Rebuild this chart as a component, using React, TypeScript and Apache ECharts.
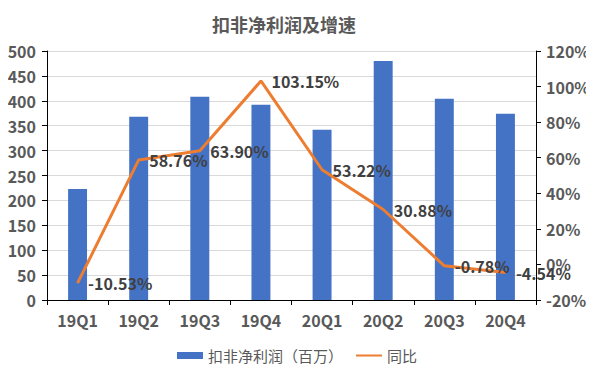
import React, { useEffect, useRef } from "react";
import * as echarts from "echarts";

const categories = ["19Q1", "19Q2", "19Q3", "19Q4", "20Q1", "20Q2", "20Q3", "20Q4"];
const profit = [223, 368, 408, 392, 342, 480, 404, 374];
const growth = [-10.53, 58.76, 63.9, 103.15, 53.22, 30.88, -0.78, -4.54];
const leftTicks = { min: 0, max: 500, interval: 50 };
const rightTicks = { min: -20, max: 120, interval: 20 };

const FONT = "'Noto Sans CJK SC', 'Noto Sans', sans-serif";

export default function App() {
  const ref = useRef<HTMLDivElement>(null);
  useEffect(() => {
    const chart = echarts.init(ref.current!, null, { renderer: "svg" });
    chart.setOption({
      animation: false,
      textStyle: { fontFamily: FONT },
      title: {
        text: "扣非净利润及增速",
        left: 279,
        top: 10,
        textAlign: "center",
        textStyle: { fontSize: 18, fontWeight: "bold", color: "#595959", fontFamily: FONT },
      },
      legend: {
        bottom: 7,
        left: "center",
        itemWidth: 26,
        itemHeight: 7,
        itemGap: 12,
        textStyle: { fontSize: 15, color: "#595959", fontFamily: FONT },
        data: [
          { name: "扣非净利润（百万）", icon: "rect" },
          { name: "同比" },
        ],
      },
      grid: { left: 47, right: 58, top: 51, bottom: 75, containLabel: false },
      xAxis: {
        type: "category",
        data: categories,
        axisLine: { lineStyle: { color: "#000", width: 1 } },
        axisTick: { show: true, alignWithLabel: false, length: 5, lineStyle: { color: "#000" } },
        axisLabel: { fontSize: 16, fontWeight: "bold", color: "#595959", margin: 12, fontFamily: FONT },
      },
      yAxis: [
        {
          type: "value",
          ...leftTicks,
          axisLine: { show: true, lineStyle: { color: "#000" } },
          axisTick: { show: true, length: 5, lineStyle: { color: "#000" } },
          axisLabel: { fontSize: 16, fontWeight: "bold", color: "#595959", margin: 11, fontFamily: FONT },
          splitLine: { lineStyle: { color: "#d9d9d9" } },
        },
        {
          type: "value",
          ...rightTicks,
          axisLine: { show: true, lineStyle: { color: "#000" } },
          axisTick: { show: true, length: 5, lineStyle: { color: "#000" } },
          axisLabel: {
            fontSize: 16,
            fontWeight: "bold",
            color: "#595959",
            margin: 10,
            fontFamily: FONT,
            formatter: "{value}%",
          },
          splitLine: { show: false },
        },
      ],
      series: [
        {
          name: "扣非净利润（百万）",
          type: "bar",
          data: profit,
          barWidth: "31%",
          itemStyle: { color: "#4472C4" },
        },
        {
          name: "同比",
          type: "line",
          yAxisIndex: 1,
          data: growth,
          showSymbol: true,
          symbol: "circle",
          symbolSize: 1,
          lineStyle: { color: "#ED7D31", width: 3 },
          itemStyle: { color: "rgba(0,0,0,0)" },
          label: {
            show: true,
            position: "right",
            distance: 10,
            fontSize: 16,
            fontWeight: "bold",
            color: "#404040",
            fontFamily: FONT,
            formatter: (p: any) => p.value.toFixed(2) + "%",
          },
        },
      ],
    });
    return () => chart.dispose();
  }, []);
  return <div ref={ref} style={{ width: 594, height: 375, margin: -8 }} />;
}
